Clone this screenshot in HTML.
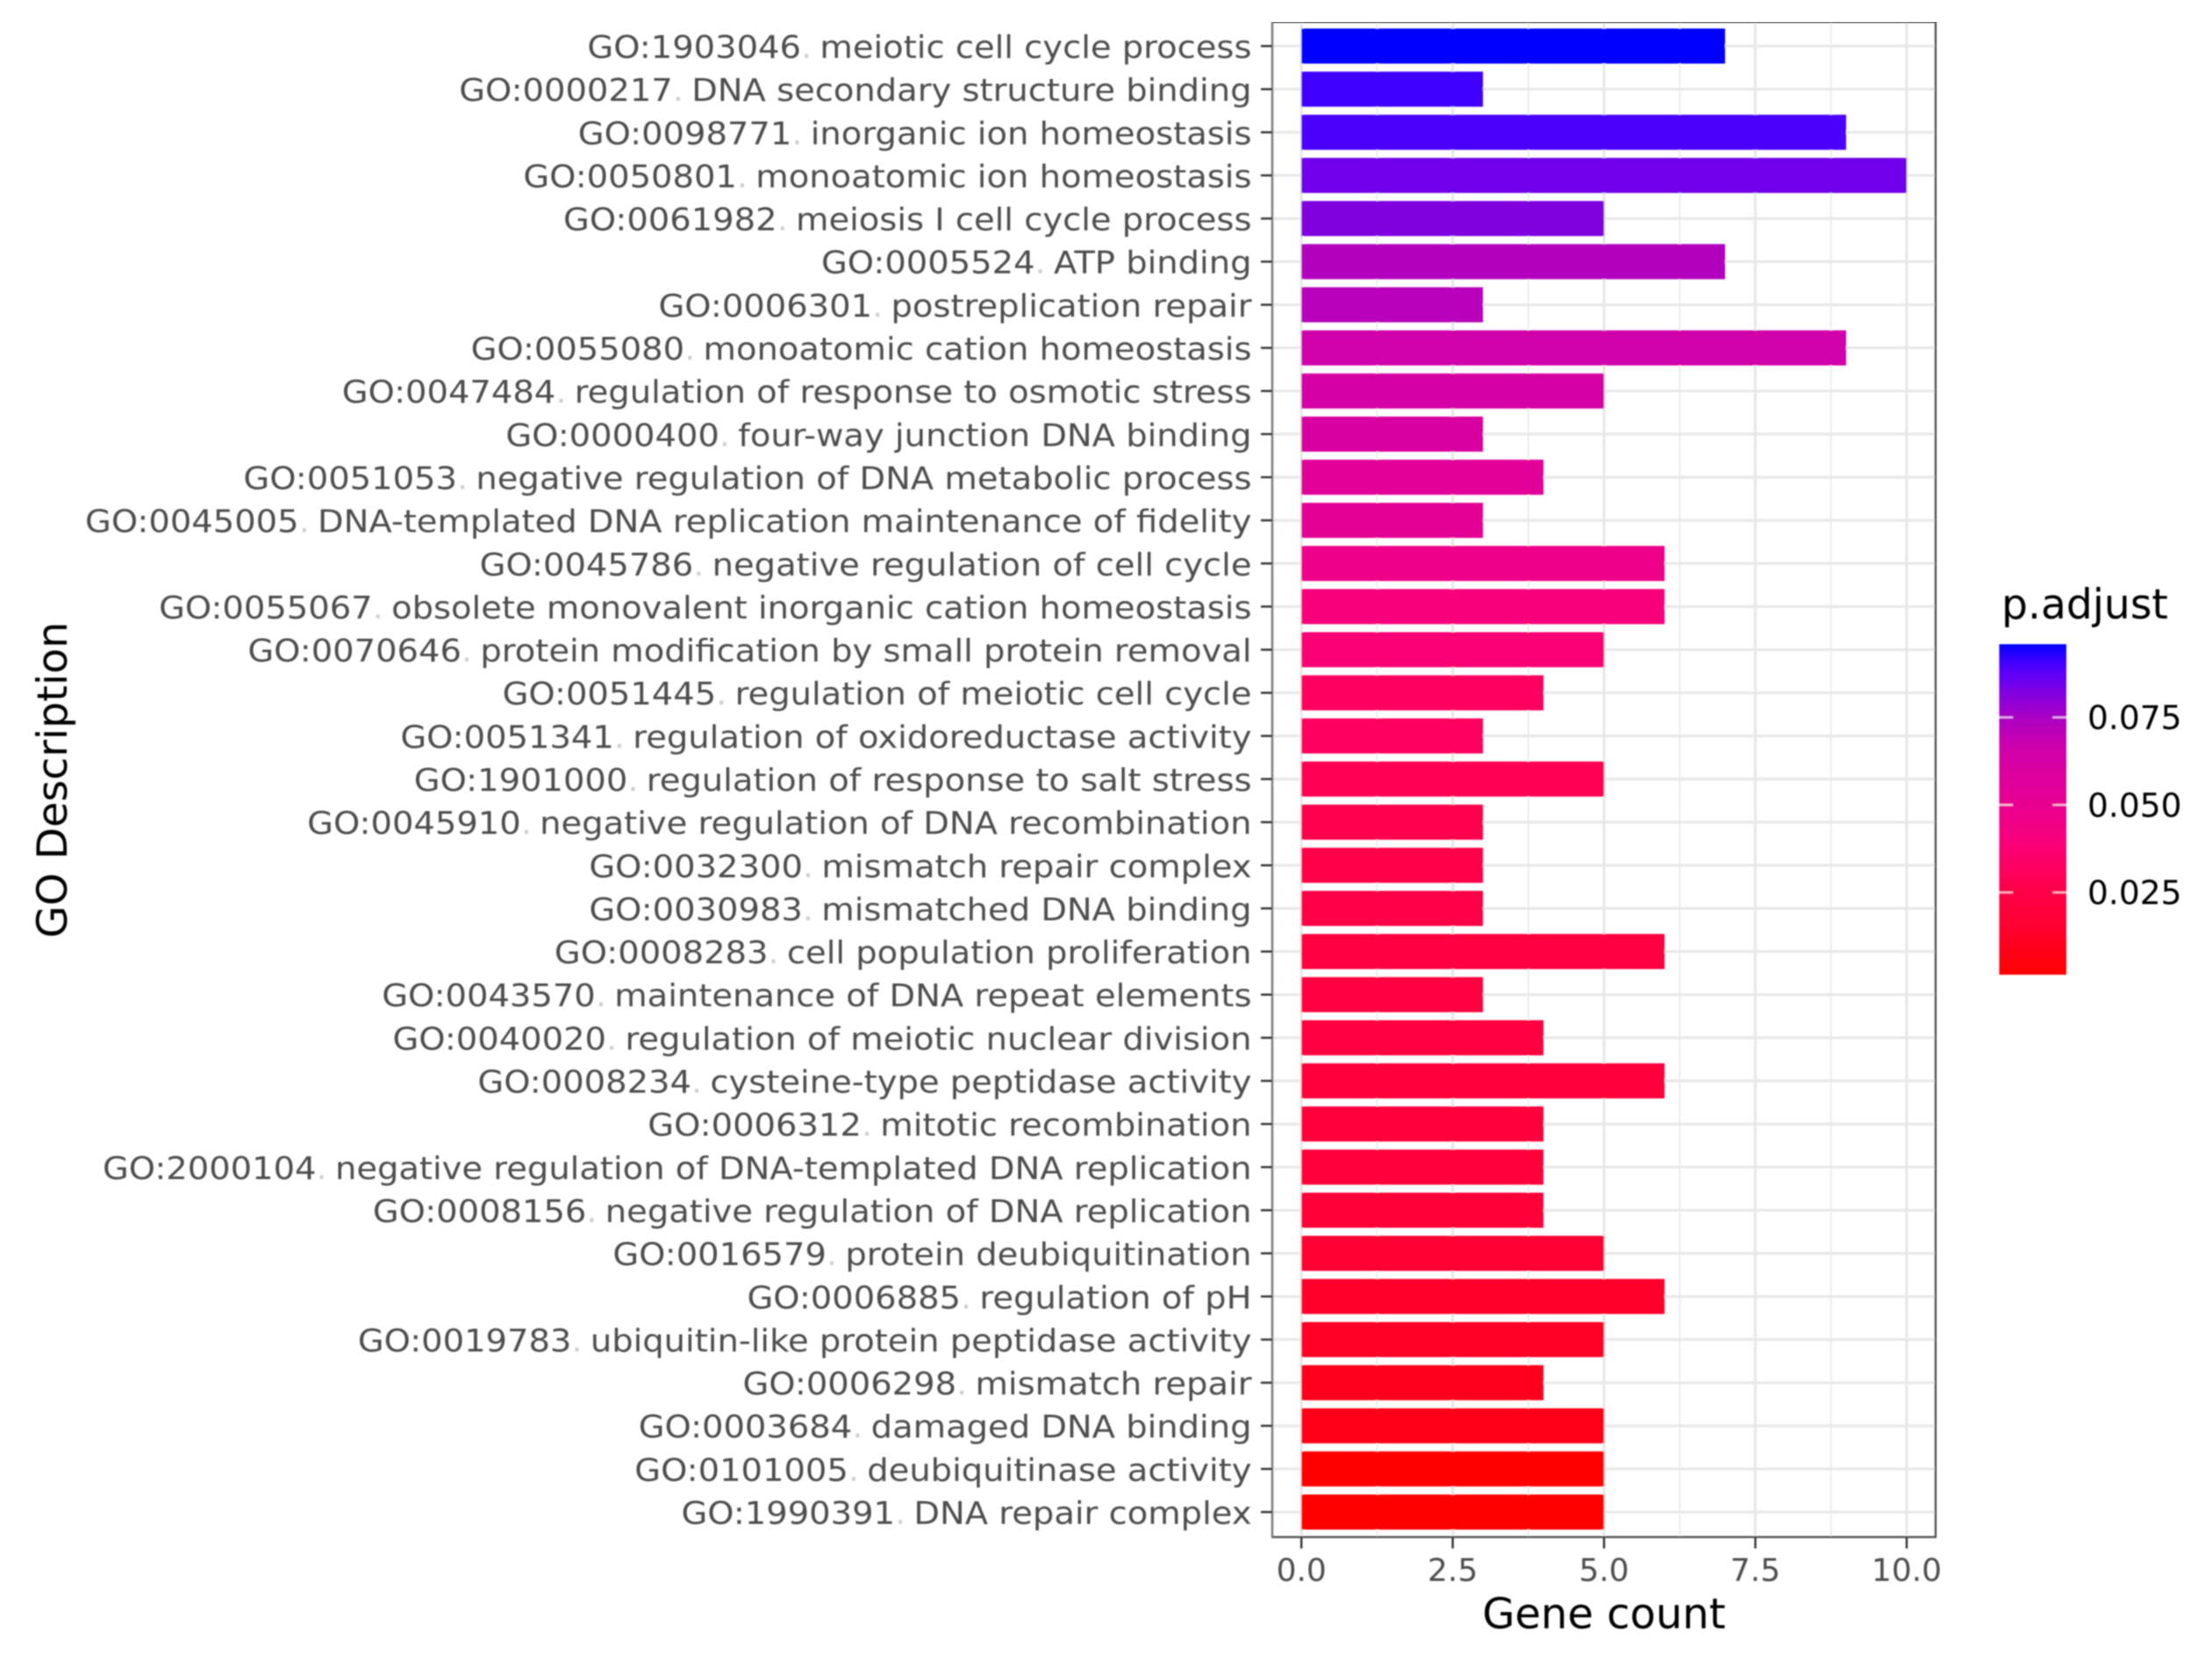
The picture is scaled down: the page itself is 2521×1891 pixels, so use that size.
<!DOCTYPE html>
<html lang="en">
<head>
<meta charset="utf-8">
<title>GO enrichment bar chart</title>
<style>
html,body{margin:0;padding:0;background:#fff;}
#chart{display:block;width:2521px;height:1891px;font-family:"DejaVu Sans","Liberation Sans",sans-serif;}
</style>
</head>
<body>
<svg id="chart" xmlns="http://www.w3.org/2000/svg" width="2521" height="1891" viewBox="0 0 2521 1891">
<defs>
<filter id="soft" x="0" y="0" width="100%" height="100%" filterUnits="objectBoundingBox"><feGaussianBlur stdDeviation="0.9"/></filter>
<linearGradient id="legend-gradient" x1="0" y1="1" x2="0" y2="0"></linearGradient>
</defs>
<rect x="0" y="0" width="2521" height="1891" fill="#ffffff"/>
<g id="root" filter="url(#soft)">
<g id="grid"></g>
<g id="bars"></g>
<g id="frame"></g>
<g id="yaxis"></g>
<g id="xaxis"></g>
<g id="legend"></g>
<text transform="translate(76,889) rotate(-90)" text-anchor="middle" font-size="47.6" fill="#000">GO Description</text>
<text x="1828" y="1856" text-anchor="middle" font-size="48" fill="#000">Gene count</text>
<text x="2281" y="705" font-size="47.2" fill="#000">p.adjust</text>
</g>
</svg>
<script>
var goIds = ["GO:1903046","GO:0000217","GO:0098771","GO:0050801","GO:0061982","GO:0005524","GO:0006301","GO:0055080","GO:0047484","GO:0000400","GO:0051053","GO:0045005","GO:0045786","GO:0055067","GO:0070646","GO:0051445","GO:0051341","GO:1901000","GO:0045910","GO:0032300","GO:0030983","GO:0008283","GO:0043570","GO:0040020","GO:0008234","GO:0006312","GO:2000104","GO:0008156","GO:0016579","GO:0006885","GO:0019783","GO:0006298","GO:0003684","GO:0101005","GO:1990391"];
var goTerms = ["meiotic cell cycle process","DNA secondary structure binding","inorganic ion homeostasis","monoatomic ion homeostasis","meiosis I cell cycle process","ATP binding","postreplication repair","monoatomic cation homeostasis","regulation of response to osmotic stress","four-way junction DNA binding","negative regulation of DNA metabolic process","DNA-templated DNA replication maintenance of fidelity","negative regulation of cell cycle","obsolete monovalent inorganic cation homeostasis","protein modification by small protein removal","regulation of meiotic cell cycle","regulation of oxidoreductase activity","regulation of response to salt stress","negative regulation of DNA recombination","mismatch repair complex","mismatched DNA binding","cell population proliferation","maintenance of DNA repeat elements","regulation of meiotic nuclear division","cysteine-type peptidase activity","mitotic recombination","negative regulation of DNA-templated DNA replication","negative regulation of DNA replication","protein deubiquitination","regulation of pH","ubiquitin-like protein peptidase activity","mismatch repair","damaged DNA binding","deubiquitinase activity","DNA repair complex"];
var geneCounts = [7,3,9,10,5,7,3,9,5,3,4,3,6,6,5,4,3,5,3,3,3,6,3,4,6,4,4,4,5,6,5,4,5,5,5];
var pAdjust = [0.0959,0.091,0.0895,0.0845,0.082,0.073,0.0715,0.066,0.0625,0.06,0.055,0.053,0.046,0.04,0.038,0.032,0.0315,0.0295,0.027,0.025,0.024,0.022,0.0218,0.0215,0.0205,0.02,0.019,0.018,0.015,0.0135,0.012,0.009,0.0065,0.003,0.0015];
var xTicks = [0,2.5,5,7.5,10];
var xTickLabels = ["0.0","2.5","5.0","7.5","10.0"];
var legendTicks = [0.075,0.05,0.025];
var legendTickLabels = ["0.075","0.050","0.025"];
var colorStopValues = [0.0015,0.015,0.025,0.03,0.04,0.05,0.066,0.075,0.082,0.087,0.091,0.0959];
var colorStopHex = ["#ff0000","#ff0030","#ff0048","#ff0058","#f8007c","#e80090","#d000aa","#aa00c4","#8000e0","#6000f8","#4000ff","#0000ff"];

var NS = "http://www.w3.org/2000/svg";
var LABEL_FONT = 38.45, LABEL_SY = 0.92;

function xScale(v){ return 1483.2 + v * (2173 - 1483.2) / 10; }
function yScale(i){ return 52.5 + i * (1723.5 - 52.5) / (geneCounts.length - 1); }
var legendMin = colorStopValues[0], legendMax = colorStopValues[colorStopValues.length - 1];
function legendY(p){ return 1111 - (p - legendMin) / (legendMax - legendMin) * (1111 - 734.3); }
function hexToRgb(h){ return [parseInt(h.substr(1,2),16),parseInt(h.substr(3,2),16),parseInt(h.substr(5,2),16)]; }
function color(p){
  var n = colorStopValues.length;
  if (p <= colorStopValues[0]) return colorStopHex[0];
  if (p >= colorStopValues[n-1]) return colorStopHex[n-1];
  for (var i = 1; i < n; i++) {
    if (p <= colorStopValues[i]) {
      var t = (p - colorStopValues[i-1]) / (colorStopValues[i] - colorStopValues[i-1]);
      var a = hexToRgb(colorStopHex[i-1]), b = hexToRgb(colorStopHex[i]);
      return "rgb(" + Math.round(a[0]+(b[0]-a[0])*t) + "," + Math.round(a[1]+(b[1]-a[1])*t) + "," + Math.round(a[2]+(b[2]-a[2])*t) + ")";
    }
  }
}
function make(parent, tag, attrs){
  var el = document.createElementNS(NS, tag);
  for (var k in attrs) el.setAttribute(k, attrs[k]);
  parent.appendChild(el);
  return el;
}

var grid = document.getElementById("grid");
var panelL = 1450, panelR = 2206, panelT = 25, panelB = 1752;
xTicks.forEach(function(v, i){
  var gl = make(grid, "line", {x1:xScale(v), x2:xScale(v), y1:panelT, y2:panelB, stroke:"#e8e8e8", "stroke-width":3.2});
  
  
  if (i < xTicks.length - 1) {
    var mid = (v + xTicks[i+1]) / 2;
    var gm = make(grid, "line", {x1:xScale(mid), x2:xScale(mid), y1:panelT, y2:panelB, stroke:"#ebebeb", "stroke-width":1.8});
    
    
  }
});
geneCounts.forEach(function(c, i){
  var gh = make(grid, "line", {x1:panelL, x2:panelR, y1:yScale(i), y2:yScale(i), stroke:"#e8e8e8", "stroke-width":3.2});
  
  
});

var barsG = document.getElementById("bars");
var barH = 40;
geneCounts.forEach(function(c, i){
  var r = make(barsG, "rect", {x:xScale(0), y:yScale(i)-barH/2, width:xScale(c)-xScale(0), height:barH, fill:color(pAdjust[i])});
  
  
});

var frame = document.getElementById("frame");
var fr = make(frame, "rect", {x:panelL, y:panelT, width:panelR-panelL, height:panelB-panelT, fill:"none", stroke:"#4a4a4a", "stroke-width":2.2});


var fl = make(frame, "line", {x1:panelL, x2:panelL, y1:panelT, y2:panelB, stroke:"#808080", "stroke-width":2.4});



var yaxis = document.getElementById("yaxis");
goIds.forEach(function(id, i){
  var tk = make(yaxis, "line", {x1:1437, x2:panelL, y1:yScale(i), y2:yScale(i), stroke:"#333333", "stroke-width":2.4});
  
  
  var t = make(yaxis, "text", {transform:"translate(1426.5," + (yScale(i)+13.5) + ") scale(1," + LABEL_SY + ")", "text-anchor":"end", "font-size":LABEL_FONT, fill:"#4d4d4d"});
  
  
  t.setAttribute('xml:space', 'preserve');
  t.style.whiteSpace = "pre";
  t.appendChild(document.createTextNode(id));
  var dot = make(t, "tspan", {fill:"#cfcfcf"});
  dot.textContent = ".";
  var term = make(t, "tspan", {dx:-3});
  term.textContent = " " + goTerms[i];
});

var xaxis = document.getElementById("xaxis");
xTicks.forEach(function(v, i){
  var tk = make(xaxis, "line", {x1:xScale(v), x2:xScale(v), y1:panelB, y2:1765, stroke:"#333333", "stroke-width":2.4});
  
  
  var t = make(xaxis, "text", {x:xScale(v), y:1802, "text-anchor":"middle", "font-size":36, fill:"#4d4d4d"});
  
  
  t.textContent = xTickLabels[i];
});

var grad = document.getElementById("legend-gradient");
colorStopValues.forEach(function(p, i){
  make(grad, "stop", {offset:(p-legendMin)/(legendMax-legendMin), "stop-color":colorStopHex[i]});
});
var legend = document.getElementById("legend");
var lb = make(legend, "rect", {x:2278.5, y:734.3, width:76.5, height:376.7, fill:"url(#legend-gradient)"});


legendTicks.forEach(function(p, i){
  var y = legendY(p);
  var a = make(legend, "line", {x1:2278.5, x2:2294, y1:y, y2:y, stroke:"#ffffff", "stroke-opacity":0.75, "stroke-width":2});
  
  
  var b = make(legend, "line", {x1:2339.5, x2:2355, y1:y, y2:y, stroke:"#ffffff", "stroke-opacity":0.75, "stroke-width":2});
  
  
  var t = make(legend, "text", {x:2379, y:y+13.5, "font-size":37.6, fill:"#000000"});
  
  
  t.textContent = legendTickLabels[i];
});
</script>
</body>
</html>
